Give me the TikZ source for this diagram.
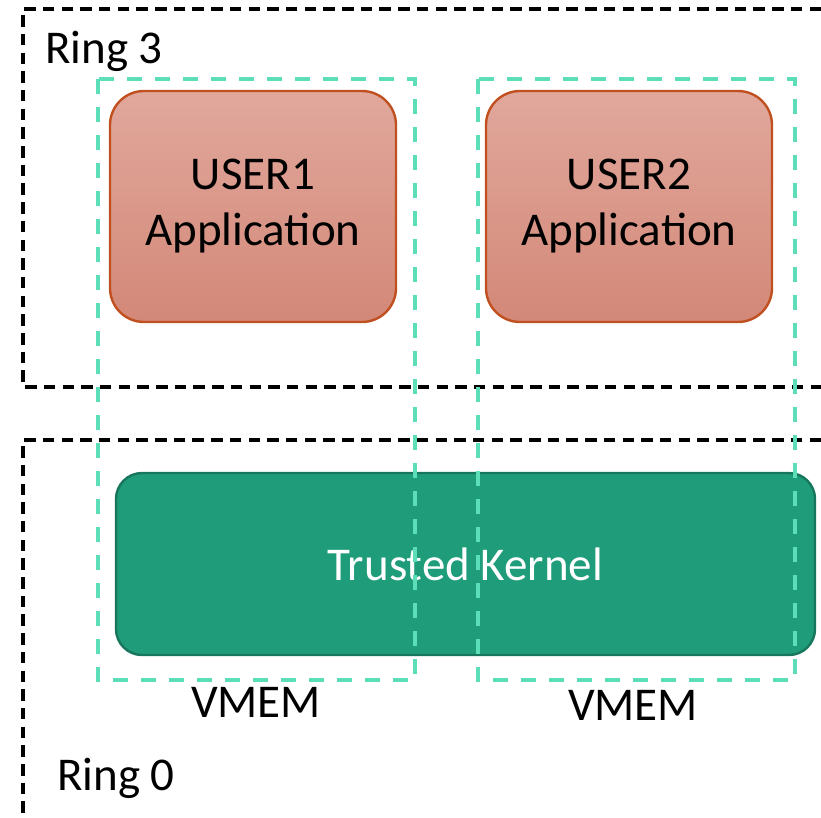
\documentclass[tikz,border=0pt]{standalone}
\usepackage{fontspec}
\setmainfont{Carlito}
\definecolor{ringline}{HTML}{000000}
\definecolor{vmemline}{HTML}{5CDFB9}
\definecolor{usertop}{HTML}{E1A89C}
\definecolor{userbot}{HTML}{D38878}
\definecolor{userborder}{HTML}{C0501F}
\definecolor{kernfill}{HTML}{1F9C7A}
\definecolor{kernborder}{HTML}{17765C}
\begin{document}
\begin{tikzpicture}[x=1pt,y=-1pt,
  ringdash/.style={draw=ringline, line width=3.2pt, dash pattern=on 11.5pt off 7.2pt},
  vmemdash/.style={draw=vmemline, line width=4pt, dash pattern=on 15pt off 13pt},
  userbox/.style={draw=userborder, line width=2.4pt, rounded corners=34pt,
    top color=usertop, bottom color=userbot, minimum width=286pt, minimum height=231pt,
    align=center, inner sep=0pt, font=\fontsize{47}{56}\selectfont},
  kernbox/.style={draw=kernborder, line width=2.4pt, rounded corners=26pt, fill=kernfill,
    minimum width=699pt, minimum height=182pt, inner sep=0pt,
    text=white, font=\fontsize{47}{56}\selectfont},
  lbl/.style={inner sep=0pt, anchor=base west, font=\fontsize{47}{56}\selectfont},
  vlbl/.style={inner sep=0pt, anchor=base, font=\fontsize{47}{56}\selectfont}]
\useasboundingbox (0,0) rectangle (821,817);
% rings
\draw[ringdash] (821,9) -- (23,9) -- (23,387) -- (821,387);
\draw[ringdash] (821,440) -- (23,440) -- (23,817);
\node[lbl] (r3) at (45,63) {Ring 3};
\node[lbl] (r0) at (57,790) {Ring 0};
% user apps
\node[userbox] (u1) at (253,206.5) {USER1\\Application};
\node[userbox] (u2) at (629,206.5) {USER2\\Application};
% kernel
\node[kernbox] (k) at (465.5,564) {Trusted Kernel};
% vmem
\draw[vmemdash] (98,79) rectangle (415,680);
\draw[vmemdash] (478,79) rectangle (795,680);
\node[vlbl] (v1) at (256,717) {VMEM};
\node[vlbl] (v2) at (633,720) {VMEM};
\end{tikzpicture}
\end{document}
